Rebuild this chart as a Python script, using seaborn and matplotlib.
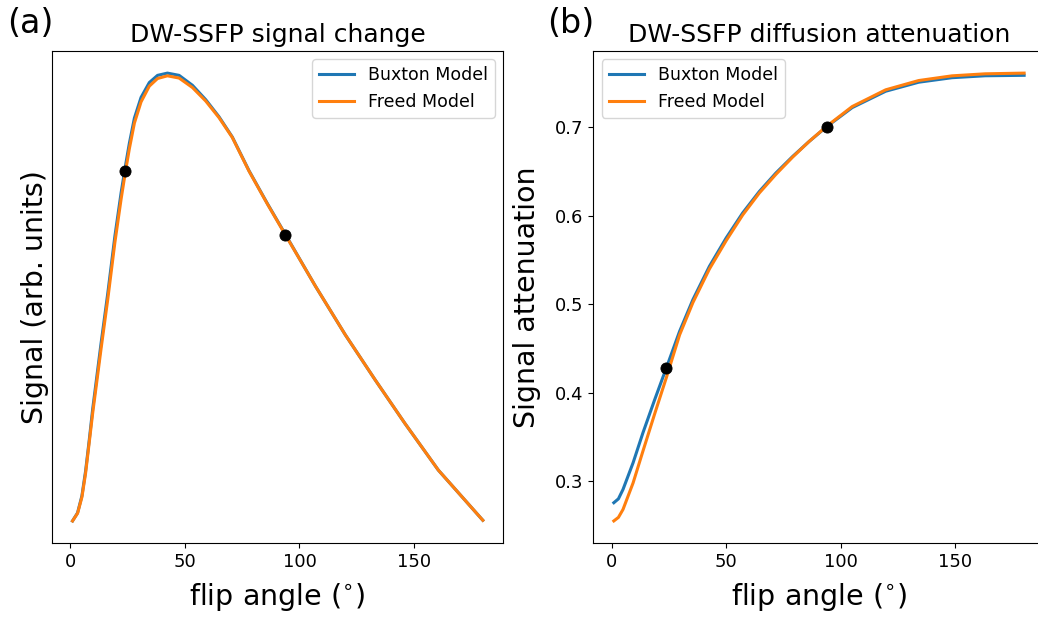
import numpy as np
import pandas as pd
import matplotlib
matplotlib.use("Agg")
import matplotlib.pyplot as plt
import seaborn as sns

# --------------------------------------------
# DATA
# --------------------------------------------

# panel (a): signal vs flip angle, arbitrary units
sig_angle = [1, 3.2, 5.1, 6.7, 8.3, 9.8, 11.7, 13.4, 16.4, 19.5, 22.2, 24.0,
             25.8, 28.0, 30.9, 34.5, 38.1, 42.4, 47.5, 53.3, 59.1, 64.9,
             70.7, 78.0, 86, 93.9, 107, 120, 133, 146, 160.6, 180]
sig_buxton = [0.0, 0.018, 0.056, 0.111, 0.180, 0.249, 0.325, 0.393, 0.507,
              0.634, 0.730, 0.787, 0.840, 0.896, 0.942, 0.975, 0.991, 0.996,
              0.991, 0.969, 0.937, 0.899, 0.854, 0.779, 0.706, 0.637, 0.522,
              0.414, 0.314, 0.217, 0.113, 0.0015]
sig_freed = [0.0, 0.017, 0.053, 0.106, 0.175, 0.240, 0.314, 0.381, 0.494,
             0.620, 0.716, 0.774, 0.828, 0.885, 0.932, 0.967, 0.984, 0.990,
             0.985, 0.964, 0.934, 0.897, 0.853, 0.778, 0.705, 0.636, 0.522,
             0.414, 0.314, 0.217, 0.113, 0.0015]

# panel (b): diffusion attenuation vs flip angle
att_angle = [1, 3, 5.0, 9.4, 13.7, 18.8, 23.9, 29.7, 35.5, 42.7, 50, 57.2,
             64.5, 71.7, 79, 86.2, 93.9, 105, 119.6, 134, 148.5, 163, 180]
att_buxton = [0.2756, 0.280, 0.2906, 0.3208, 0.3547, 0.392, 0.428, 0.4695,
              0.5053, 0.543, 0.575, 0.6033, 0.6277, 0.6485, 0.6672, 0.6842,
              0.701, 0.7225, 0.741, 0.7512, 0.7563, 0.7585, 0.759]
att_freed = [0.255, 0.259, 0.268, 0.298, 0.334, 0.376, 0.417, 0.4655, 0.502,
             0.540, 0.572, 0.601, 0.626, 0.647, 0.6665, 0.6842, 0.7015,
             0.7237, 0.7426, 0.7531, 0.7584, 0.7607, 0.7615]

# marked flip angles
dot_angle = [23.9, 93.9]
dot_signal = [0.778, 0.636]
dot_att = [0.428, 0.701]

blue = "#1f77b4"
orange = "#ff7f0e"

# --------------------------------------------
# FIGURE
# --------------------------------------------

fig = plt.figure(figsize=(10.38, 6.17), dpi=100)
ax1 = fig.add_axes([0.0501, 0.1194, 0.4348, 0.7984])
ax2 = fig.add_axes([0.5716, 0.1194, 0.4348, 0.7984])

# (a) signal change
sns.lineplot(x=sig_angle, y=sig_buxton, ax=ax1, color=blue, lw=2.2,
             label="Buxton Model")
sns.lineplot(x=sig_angle, y=sig_freed, ax=ax1, color=orange, lw=2.2,
             label="Freed Model")
sns.scatterplot(x=dot_angle, y=dot_signal, ax=ax1, color="black", s=64,
                edgecolor="black", zorder=5)
ax1.set_yticks([])
ax1.set_xticks([0, 50, 100, 150])
ax1.set_title("DW-SSFP signal change", fontsize=18)
ax1.set_xlabel(r"flip angle ($^{\circ}$)", fontsize=20.5, labelpad=7)
ax1.set_ylabel("Signal (arb. units)", fontsize=20.5, labelpad=2)
ax1.legend(loc="upper right", fontsize=12.5)

# (b) diffusion attenuation
sns.lineplot(x=att_angle, y=att_buxton, ax=ax2, color=blue, lw=2.2,
             label="Buxton Model")
sns.lineplot(x=att_angle, y=att_freed, ax=ax2, color=orange, lw=2.2,
             label="Freed Model")
sns.scatterplot(x=dot_angle, y=dot_att, ax=ax2, color="black", s=64,
                edgecolor="black", zorder=5)
ax2.set_xticks([0, 50, 100, 150])
ax2.set_yticks([0.3, 0.4, 0.5, 0.6, 0.7])
ax2.set_title("DW-SSFP diffusion attenuation", fontsize=18)
ax2.set_xlabel(r"flip angle ($^{\circ}$)", fontsize=20.5, labelpad=7)
ax2.set_ylabel("Signal attenuation", fontsize=20.5, labelpad=10)
ax2.legend(loc="upper left", fontsize=12.5)

for ax in (ax1, ax2):
    ax.tick_params(labelsize=13)

fig.text(0.007, 0.946, "(a)", fontsize=24)
fig.text(0.527, 0.946, "(b)", fontsize=24)

plt.savefig("out.png", dpi=100)
